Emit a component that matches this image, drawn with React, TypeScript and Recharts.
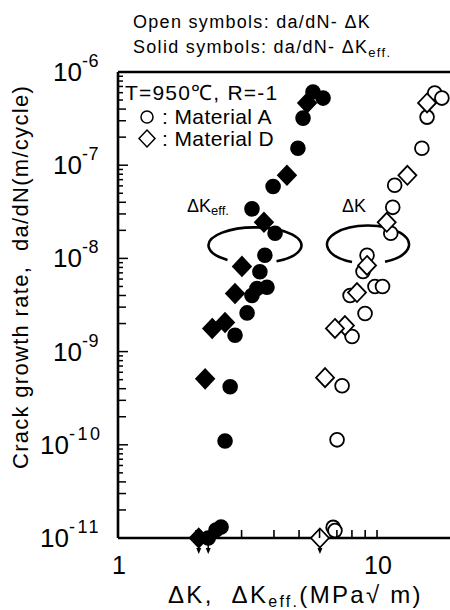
import React from 'react';
import { ScatterChart, Scatter, XAxis, YAxis, ReferenceLine } from 'recharts';

const FONT = '"Liberation Sans", Arial, Helvetica, sans-serif';

// Material A, da/dN - ΔKeff (solid circles)
const solidAK = [5.66, 6.19, 5.18, 4.95, 3.97, 3.29, 4.04, 3.69, 3.53, 3.76, 3.44, 3.29, 3.15, 2.83, 2.71, 2.59, 2.39, 2.5];
const solidARate = [6.1e-7, 5.25e-7, 3.2e-7, 1.52e-7, 5.9e-8, 3.4e-8, 1.86e-8, 1.08e-8, 7.2e-9, 4.9e-9, 4.75e-9, 4.0e-9, 2.6e-9, 1.5e-9, 4.2e-10, 1.1e-10, 1.22e-11, 1.31e-11];
// Material D, da/dN - ΔKeff (solid diamonds)
const solidDK = [5.37, 4.49, 3.66, 3.01, 2.83, 2.59, 2.31, 2.17];
const solidDRate = [4.65e-7, 7.8e-8, 2.44e-8, 8.2e-9, 4.2e-9, 2.05e-9, 1.77e-9, 5.1e-10];
// Material A, da/dN - ΔK (open circles)
const openAK = [16.7, 17.8, 15.6, 14.9, 11.7, 11.5, 11.3, 9.15, 8.83, 9.82, 10.5, 7.87, 8.99, 8.01, 7.33, 7.01, 6.77, 6.88];
const openARate = [5.94e-7, 5.25e-7, 3.28e-7, 1.52e-7, 6.1e-8, 3.53e-8, 1.86e-8, 1.08e-8, 7.24e-9, 5.0e-9, 5.0e-9, 4.0e-9, 2.56e-9, 1.45e-9, 4.3e-10, 1.13e-10, 1.3e-11, 1.2e-11];
// Material D, da/dN - ΔK (open diamonds)
const openDK = [15.6, 13.1, 10.9, 9.15, 8.37, 7.52, 6.88, 6.3];
const openDRate = [4.65e-7, 7.8e-8, 2.44e-8, 8.4e-9, 4.3e-9, 1.9e-9, 1.77e-9, 5.25e-10];
// points below 1e-11 (plotted on the axis with arrows)
const solidABelowK = [2.23];
const solidDBelowK = [2.05];
const openDBelowK = [6.02];
const belowRate = 1e-11;

// centres of the bracket arcs
const arcK = [3.38, 9.23];
const arcRate = [1.38e-8, 1.41e-8];

const xDomain = [1, 20];
const yDomain = [1e-11, 1e-6];
const xTicks = [1, 10];
const xMinorTicks = [2, 3, 4, 5, 6, 7, 8, 9, 10];
const decades = [-11, -10, -9, -8, -7, -6];
const mantissas = [1, 2, 3, 4, 5, 6, 7, 8, 9];
const yTicks = decades.map((e) => Math.pow(10, e));
const yMinorTicks = decades.flatMap((e) => (e === -6 ? [1] : mantissas).map((m) => ({ v: m * Math.pow(10, e), m })));

const pts = (k: number[], r: number[]) => k.map((v, i) => ({ k: v, rate: r[i] }));
const below = (k: number[]) => k.map((v) => ({ k: v, rate: belowRate }));

// chart geometry (plot box) used for the inward axis ticks
const CHART_W = 460;
const CHART_H = 610;
const MARGIN = { top: 72, right: 5, bottom: 0, left: 0 };
const Y_AXIS_W = 118;
const X_AXIS_H = 72;
const PLOT_L = MARGIN.left + Y_AXIS_W;
const PLOT_R = CHART_W - MARGIN.right;
const PLOT_T = MARGIN.top;
const PLOT_B = CHART_H - MARGIN.bottom - X_AXIS_H;
const logPos = (v: number, d: number[], a: number, b: number) =>
  a + ((Math.log10(v) - Math.log10(d[0])) / (Math.log10(d[1]) - Math.log10(d[0]))) * (b - a);

const circleShape = (filled: boolean) => (p: any) => (
  <circle cx={p.cx} cy={p.cy} r={6.9} fill={filled ? '#000' : '#fff'} stroke="#000" strokeWidth={1.8} />
);

const diamondShape = (filled: boolean) => (p: any) => (
  <path
    d={`M${p.cx},${p.cy - 9.5}L${p.cx + 9},${p.cy}L${p.cx},${p.cy + 9.5}L${p.cx - 9},${p.cy}Z`}
    fill={filled ? '#000' : '#fff'}
    stroke="#000"
    strokeWidth={1.8}
  />
);

const arrow = (cx: number, cy: number) => (
  <g>
    <rect x={cx - 0.75} y={cy + 4} width={1.5} height={8} fill="#000" />
    <path d={`M${cx - 2.5},${cy + 10}L${cx + 2.5},${cy + 10}L${cx},${cy + 16}Z`} fill="#000" />
  </g>
);

const withArrow = (shape: (p: any) => React.ReactElement) => (p: any) => (
  <g>
    {arrow(p.cx, p.cy)}
    {shape(p)}
  </g>
);

// open ellipse with a gap at the bottom
const arcShape = (p: any) => {
  const i = p.index;
  const rx = i === 0 ? 46.5 : 41;
  const ry = i === 0 ? 18 : 19;
  const a = i === 0 ? -27.5 : -16;
  const b = i === 0 ? 21.5 : 17;
  const ya = ry * Math.sqrt(1 - (a / rx) ** 2);
  const yb = ry * Math.sqrt(1 - (b / rx) ** 2);
  return (
    <path
      d={`M${p.cx + a},${p.cy + ya}A${rx},${ry} 0 1 1 ${p.cx + b},${p.cy + yb}`}
      fill="none"
      stroke="#000"
      strokeWidth={2.6}
    />
  );
};

const YTick = (props: any) => {
  const { y, payload } = props;
  const e = Math.round(Math.log10(payload.value as number));
  return (
    <text x={e <= -10 ? 40 : 53} y={y + 9} fontSize={26} fontFamily={FONT} fill="#000">
      10
      <tspan dy={-14} fontSize={18} letterSpacing={e <= -10 ? 2.5 : 0.5}>{e}</tspan>
    </text>
  );
};

const XTick = (props: any) => {
  const { x, payload } = props;
  return (
    <text x={x + 1} y={574} textAnchor="middle" fontSize={25} fontFamily={FONT} fill="#000">
      {payload.value}
    </text>
  );
};

export default function App() {
  return (
    <div style={{ position: 'absolute', left: 0, top: 0, width: 450, height: 610, overflow: 'hidden', background: '#fff' }}>
      <ScatterChart width={CHART_W} height={CHART_H} margin={MARGIN}>
        <XAxis
          dataKey="k"
          type="number"
          scale="log"
          domain={xDomain}
          ticks={xTicks}
          height={X_AXIS_H}
          tickLine={false}
          tick={<XTick />}
          axisLine={{ stroke: '#000', strokeWidth: 2.6 }}
          interval={0}
        />
        <YAxis
          dataKey="rate"
          type="number"
          scale="log"
          domain={yDomain}
          ticks={yTicks}
          width={Y_AXIS_W}
          tickLine={false}
          tick={<YTick />}
          axisLine={{ stroke: '#000', strokeWidth: 2.6 }}
          interval={0}
        />
        <ReferenceLine y={1e-6} stroke="#000" strokeWidth={2.6} />
        <ReferenceLine x={20} stroke="#000" strokeWidth={2.6} />
        <Scatter data={pts(arcK, arcRate)} shape={arcShape} isAnimationActive={false} />
        <Scatter data={pts(openAK, openARate)} shape={circleShape(false)} isAnimationActive={false} />
        <Scatter data={pts(openDK, openDRate)} shape={diamondShape(false)} isAnimationActive={false} />
        <Scatter data={pts(solidAK, solidARate)} shape={circleShape(true)} isAnimationActive={false} />
        <Scatter data={pts(solidDK, solidDRate)} shape={diamondShape(true)} isAnimationActive={false} />
        <Scatter data={below(openDBelowK)} shape={withArrow(diamondShape(false))} isAnimationActive={false} />
        <Scatter data={below(solidDBelowK)} shape={withArrow(diamondShape(true))} isAnimationActive={false} />
        <Scatter data={below(solidABelowK)} shape={withArrow(circleShape(true))} isAnimationActive={false} />
      </ScatterChart>
      <svg
        width={450}
        height={610}
        style={{ position: 'absolute', left: 0, top: 0, pointerEvents: 'none' }}
        fontFamily={FONT}
        fill="#000"
      >
        {/* inward minor ticks */}
        {yMinorTicks.map((t, i) => {
          const y = logPos(t.v, yDomain, PLOT_B, PLOT_T);
          const len = t.m === 1 ? 10 : t.m <= 4 ? 8 : 5;
          return <path key={`y${i}`} d={`M${PLOT_L},${y}h${len}`} fill="none" stroke="#000" strokeWidth={1.5} />;
        })}
        {xMinorTicks.map((v) => {
          const x = logPos(v, xDomain, PLOT_L, PLOT_R);
          return <path key={`x${v}`} d={`M${x},${PLOT_B}v-8`} fill="none" stroke="#000" strokeWidth={1.6} />;
        })}
        <text x={133} y={28} fontSize={18} letterSpacing={1.3}>Open symbols: da/dN- ΔK</text>
        <text x={133} y={53} fontSize={18} letterSpacing={1.3}>
          Solid symbols: da/dN- ΔK<tspan fontSize={13} dy={4}>eff.</tspan>
        </text>
        <text x={125} y={100} fontSize={21} letterSpacing={1.2}>T=950℃, R=-1</text>
        <circle cx={147} cy={117} r={6} fill="#fff" stroke="#000" strokeWidth={1.5} />
        <text x={162} y={124} fontSize={21} letterSpacing={0.4}>: Material A</text>
        <path d="M147,130L155,138.5L147,147L139,138.5Z" fill="#fff" stroke="#000" strokeWidth={1.5} />
        <text x={162} y={146} fontSize={21} letterSpacing={0.4}>: Material D</text>
        <text x={187} y={212} fontSize={18}>
          ΔK<tspan fontSize={13} dy={3}>eff.</tspan>
        </text>
        <text x={342} y={212} fontSize={18}>ΔK</text>
        <text transform="translate(28,277) rotate(-90)" textAnchor="middle" fontSize={22} letterSpacing={1.3}>
          Crack growth rate,{'\u00a0\u00a0'}da/dN(m/cycle)
        </text>
        <text x={168} y={603} fontSize={24} letterSpacing={2.3}>
          ΔK,{'\u00a0\u00a0'}ΔK<tspan fontSize={16} dy={4}>eff.</tspan>
          <tspan dy={-4}>(MPa√</tspan>
          <tspan>{'\u00a0'}m)</tspan>
        </text>
      </svg>
    </div>
  );
}
